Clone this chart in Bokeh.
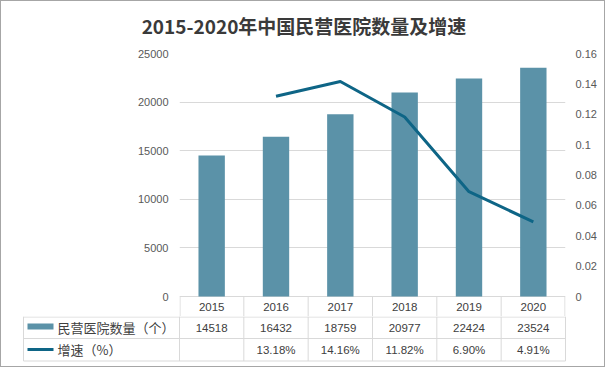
from bokeh.plotting import figure
from bokeh.models import (Range1d, FactorRange, LinearAxis, FixedTicker,
                          NumeralTickFormatter)
from bokeh.layouts import column
from bokeh.embed import file_html
from bokeh.resources import INLINE
from bokeh.core.properties import value

# ---------------- data ----------------
title_text = "2015-2020年中国民营医院数量及增速"
years = ["2015", "2016", "2017", "2018", "2019", "2020"]
hospitals = [14518, 16432, 18759, 20977, 22424, 23524]
growth_years = ["2016", "2017", "2018", "2019", "2020"]
growth = [0.1318, 0.1416, 0.1182, 0.0690, 0.0491]
left_ticks = [0, 5000, 10000, 15000, 20000, 25000]
right_ticks = [0, 0.02, 0.04, 0.06, 0.08, 0.10, 0.12, 0.14, 0.16]
series_names = ["民营医院数量（个）", "增速（%）"]

# ---------------- styles / layout ----------------
BAR = "#5B92A8"
LINE = "#0E6586"
GRID = "#d9d9d9"
TXT = "#404040"
AX = "#595959"
NUM_FONT = value("Liberation Sans")
CJK_FONT = value("Noto Sans CJK SC")

W = 603
T_H = 40
A_H = 275
B_H = 50
FL, FR, FT = 178, 564, 12
ZERO_Y = 255.0
CAT = (FR - FL) / len(years)
y_max = left_ticks[-1]
px_per_unit = (ZERO_Y - FT) / y_max
y_low = -(A_H - ZERO_Y) / px_per_unit
r_max = right_ticks[-1]


def bare(fig):
    fig.frame_align = False
    fig.outline_line_color = None
    fig.background_fill_color = "white"
    fig.border_fill_color = "white"


# ---------------- title strip ----------------
tt = figure(width=W, height=T_H, x_range=Range1d(0, W), y_range=Range1d(T_H, 0),
            output_backend="svg", toolbar_location=None,
            x_axis_type=None, y_axis_type=None,
            min_border_left=0, min_border_right=0,
            min_border_top=0, min_border_bottom=0)
bare(tt)
tt.xgrid.visible = False
tt.ygrid.visible = False
tt.text(x=[302.5], y=[23.5], text=[title_text], text_align="center",
        text_baseline="middle", text_font=CJK_FONT, text_font_size="19px",
        text_font_style="bold", text_color="#3a3a3a")

# ---------------- chart figure ----------------
p = figure(width=W, height=A_H, x_range=FactorRange(*years),
           y_range=Range1d(y_low, y_max),
           output_backend="svg", toolbar_location=None,
           min_border_left=FL, min_border_right=W - FR,
           min_border_top=FT, min_border_bottom=0)
bare(p)
p.xaxis.visible = False
p.xgrid.visible = False

lt = FixedTicker(ticks=left_ticks)
ya = p.yaxis[0]
ya.ticker = lt
ya.formatter = NumeralTickFormatter(format="0")

p.extra_y_ranges = {"g": Range1d(y_low / y_max * r_max, r_max)}
ra = LinearAxis(y_range_name="g", ticker=FixedTicker(ticks=right_ticks),
                formatter=NumeralTickFormatter(format="0.[00]"))
p.add_layout(ra, "right")

for ax, so in [(ya, 11), (ra, 10)]:
    ax.axis_line_color = None
    ax.major_tick_line_color = None
    ax.minor_tick_line_color = None
    ax.major_tick_out = 0
    ax.major_tick_in = 0
    ax.minor_tick_out = 0
    ax.major_label_standoff = so
    ax.major_label_text_font = "Liberation Sans"
    ax.major_label_text_font_size = "11px"
    ax.major_label_text_color = AX

p.ygrid.ticker = lt
p.ygrid.grid_line_color = GRID
p.ygrid.grid_line_width = 1

p.vbar(x=years, top=hospitals, width=0.41, fill_color=BAR, line_color=None)
p.line(x=growth_years, y=growth, y_range_name="g", line_color=LINE,
       line_width=3, line_join="round")

# header row of data table (years)
header_y = -10.0 / px_per_unit
p.text(x=years, y=[header_y] * len(years), text=years,
       text_align="center", text_baseline="middle",
       text_font=NUM_FONT, text_font_size="11.5px", text_color=TXT)
bounds = list(range(len(years) + 1))
bx = [b for b in bounds]
bx[0] = 0.008
bx[-1] = len(years) - 0.008
p.segment(x0=bx, y0=[0] * len(bx), x1=bx, y1=[y_low] * len(bx),
          line_color=GRID, line_width=1)

# ---------------- table figure ----------------
tb = figure(width=W, height=B_H,
            x_range=Range1d(-FL / CAT, (W - FL) / CAT),
            y_range=Range1d(B_H, 0),
            output_backend="svg", toolbar_location=None,
            x_axis_type=None, y_axis_type=None,
            min_border_left=0, min_border_right=0,
            min_border_top=0, min_border_bottom=0)
bare(tb)
tb.xgrid.visible = False
tb.ygrid.visible = False

t_left = (22 - FL) / CAT
row_lines = [0.5, 22, 44.5]
row_mid = [11, 33]
tb.segment(x0=[t_left] * 3, y0=row_lines, x1=[len(years)] * 3, y1=row_lines,
           line_color=GRID, line_width=1)
vx = [t_left] + bounds
tb.segment(x0=vx, y0=[0] * len(vx), x1=vx, y1=[row_lines[-1]] * len(vx),
           line_color=GRID, line_width=1)

xs = [i + 0.5 for i in range(len(years))]
tb.text(x=xs, y=[row_mid[0]] * len(xs), text=[str(v) for v in hospitals],
        text_align="center", text_baseline="middle",
        text_font=NUM_FONT, text_font_size="11.5px", text_color=TXT)
g_labels = [""] + ["%.2f%%" % (g * 100) for g in growth]
tb.text(x=xs, y=[row_mid[1]] * len(xs), text=g_labels,
        text_align="center", text_baseline="middle",
        text_font=NUM_FONT, text_font_size="11.5px", text_color=TXT)

# legend keys
sw_l, sw_r = (26 - FL) / CAT, (52 - FL) / CAT
tb.quad(left=[sw_l], right=[sw_r], top=[7], bottom=[13],
        fill_color=BAR, line_color=None)
tb.segment(x0=[sw_l], y0=[row_mid[1]], x1=[sw_r], y1=[row_mid[1]],
           line_color=LINE, line_width=3)
tx = (56 - FL) / CAT
tb.text(x=[tx, tx], y=row_mid, text=series_names,
        text_align="left", text_baseline="middle",
        text_font=CJK_FONT, text_font_size="13px", text_color=TXT)

layout = column(tt, p, tb, spacing=0,
                styles={"border": "1px solid #a6a6a6", "background": "white"})

open("out.html", "w").write(file_html(layout, INLINE))
